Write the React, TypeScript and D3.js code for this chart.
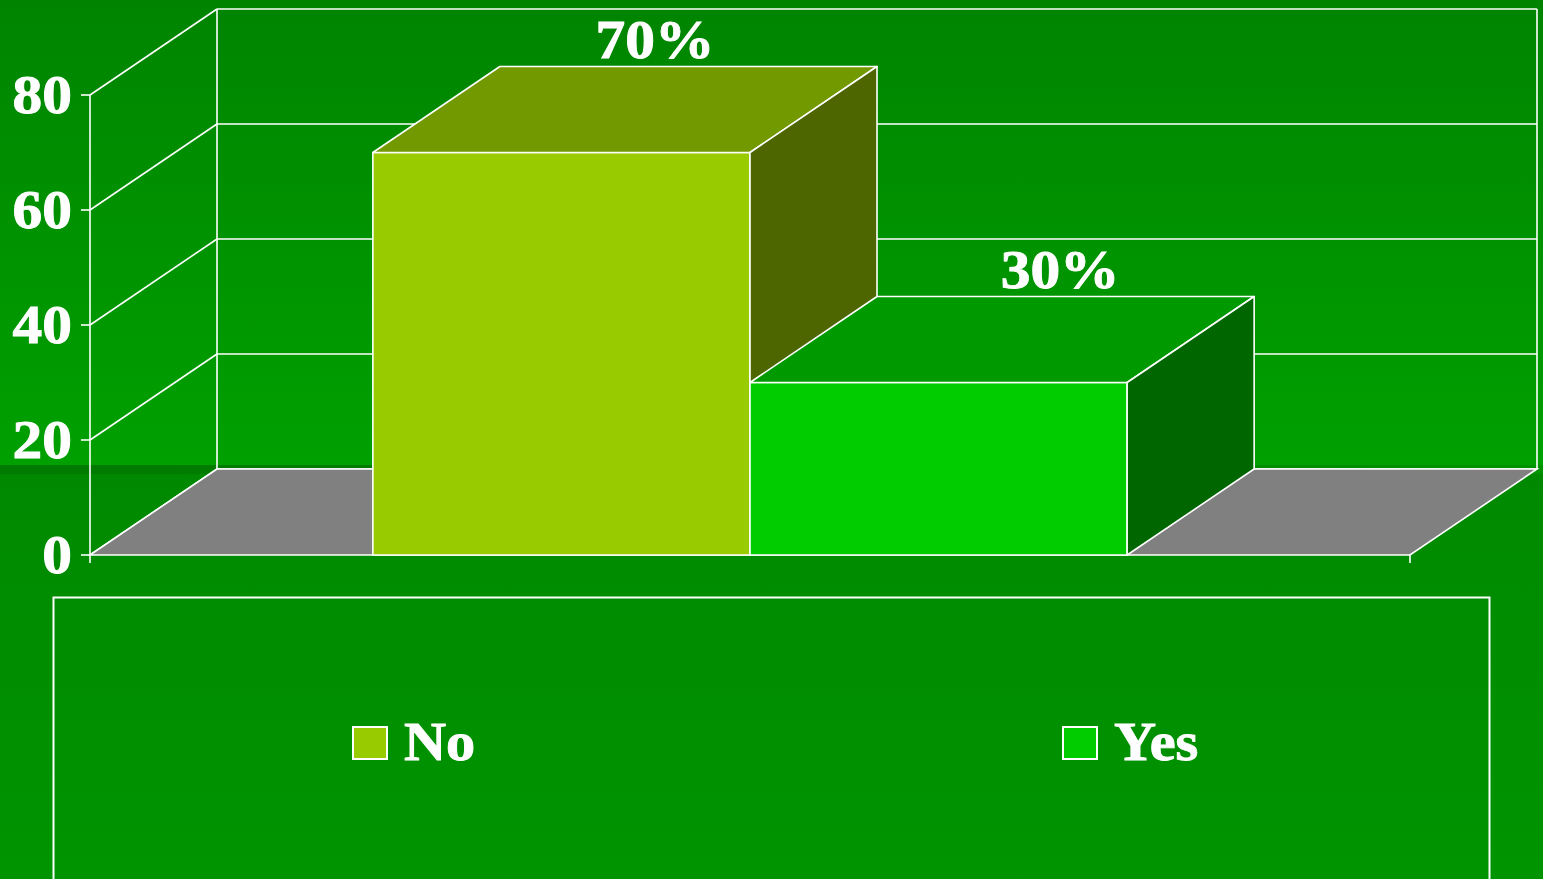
import React from "react";
import * as d3 from "d3";

const categories = [""];
const seriesNames = ["No", "Yes"];
const seriesValues = [70, 30];
const valueLabels = ["70%", "30%"];
const yTicks = [0, 20, 40, 60, 80];

const W = 1543;
const H = 879;
const FONT = "'Liberation Serif', 'Times New Roman', serif";

const frontColors = ["#99cc00", "#00cc00"];
const topColors = ["#739900", "#009900"];
const sideColors = ["#4d6600", "#006600"];
const labelDx = [30, 58];
const SX = 1.08;

function BoldText(props: { x: number; y: number; anchor: string; size: number; children: React.ReactNode }) {
  const { x, y, anchor, size, children } = props;
  return (
    <text
      x={0}
      y={0}
      transform={`translate(${x},${y}) scale(${SX},1)`}
      textAnchor={anchor}
      fill="#fff"
      stroke="#fff"
      strokeWidth={0.9}
      fontFamily={FONT}
      fontWeight="bold"
      fontSize={size}
    >
      {children}
    </text>
  );
}

export default function App() {
  const left = 90;
  const right = 1410;
  const depthX = 127;
  const depthY = -86;
  const y = d3.scaleLinear().domain([0, 80]).range([555, 95]);
  const xCat = d3.scaleBand().domain(categories).range([left, right]).paddingInner(0).paddingOuter(0.375);
  const xSer = d3.scaleBand().domain(seriesNames).range([0, xCat.bandwidth()]);
  const y0 = y(0);

  const pts = (arr: [number, number][]) => arr.map((p) => p.join(",")).join(" ");

  return (
    <svg width={W} height={H} style={{ position: "fixed", left: 0, top: 0 }}>
      <defs>
        <linearGradient id="bgTop" x1="0" y1="0" x2="0" y2="1">
          <stop offset="0" stopColor="#008400" />
          <stop offset="1" stopColor="#00a000" />
        </linearGradient>
        <linearGradient id="bgBot" x1="0" y1="0" x2="0" y2="1">
          <stop offset="0" stopColor="#008900" />
          <stop offset="1" stopColor="#009400" />
        </linearGradient>
        <linearGradient id="band" x1="0" y1="0" x2="1" y2="0">
          <stop offset="0" stopColor="#007a00" />
          <stop offset="0.25" stopColor="#007d00" />
          <stop offset="1" stopColor="#009200" />
        </linearGradient>
      </defs>
      <rect x={0} y={0} width={W} height={466} fill="url(#bgTop)" />
      <rect x={0} y={474} width={W} height={H - 474} fill="url(#bgBot)" />
      <rect x={0} y={465} width={W} height={9} fill="url(#band)" />

      {/* back wall gridlines */}
      {yTicks.map((t) => (
        <g key={"g" + t}>
          <line x1={left + depthX} x2={right + depthX} y1={y(t) + depthY} y2={y(t) + depthY} stroke="#fff" strokeWidth={1.6} />
          <line x1={left} x2={left + depthX} y1={y(t)} y2={y(t) + depthY} stroke="#fff" strokeWidth={1.6} />
          <line x1={left - 9} x2={left} y1={y(t)} y2={y(t)} stroke="#fff" strokeWidth={1.6} />
        </g>
      ))}
      <line x1={left + depthX} x2={left + depthX} y1={y(80) + depthY} y2={y0 + depthY} stroke="#fff" strokeWidth={1.6} />
      <line x1={right + depthX} x2={right + depthX} y1={y(80) + depthY} y2={y0 + depthY} stroke="#fff" strokeWidth={1.6} />
      <line x1={left} x2={left} y1={y(80)} y2={y0 + 8} stroke="#fff" strokeWidth={1.6} />
      <line x1={right} x2={right} y1={y0} y2={y0 + 8} stroke="#fff" strokeWidth={1.6} />

      {/* floor */}
      <polygon
        points={pts([
          [left, y0],
          [right, y0],
          [right + depthX, y0 + depthY],
          [left + depthX, y0 + depthY],
        ])}
        fill="#808080"
        stroke="#fff"
        strokeWidth={1.6}
      />

      {/* bars */}
      {categories.map((c) =>
        seriesNames.map((s, i) => {
          const x0 = (xCat(c) as number) + (xSer(s) as number);
          const x1 = x0 + xSer.bandwidth();
          const yt = y(seriesValues[i]);
          return (
            <g key={s} stroke="#fff" strokeWidth={1.6} strokeLinejoin="round">
              <rect x={x0} y={yt} width={x1 - x0} height={y0 - yt} fill={frontColors[i]} />
              <polygon
                points={pts([
                  [x0, yt],
                  [x1, yt],
                  [x1 + depthX, yt + depthY],
                  [x0 + depthX, yt + depthY],
                ])}
                fill={topColors[i]}
              />
              <polygon
                points={pts([
                  [x1, yt],
                  [x1 + depthX, yt + depthY],
                  [x1 + depthX, y0 + depthY],
                  [x1, y0],
                ])}
                fill={sideColors[i]}
              />
            </g>
          );
        })
      )}

      {/* value labels */}
      {seriesNames.map((s, i) => {
        const x0 = (xCat(categories[0]) as number) + (xSer(s) as number);
        const cx = x0 + xSer.bandwidth() / 2 + depthX / 2 + labelDx[i];
        const yt = y(seriesValues[i]) + depthY;
        return (
          <BoldText key={"l" + s} x={cx} y={yt - 9} anchor="middle" size={55}>
            {valueLabels[i]}
          </BoldText>
        );
      })}

      {/* y tick labels */}
      {yTicks.map((t) => (
        <BoldText key={"t" + t} x={72} y={y(t) + 18} anchor="end" size={55}>
          {t}
        </BoldText>
      ))}

      {/* legend */}
      <rect x={53.5} y={597.5} width={1436} height={320} fill="none" stroke="#fff" strokeWidth={2} />
      {seriesNames.map((s, i) => {
        const lx = [353, 1063][i];
        return (
          <g key={"lg" + s}>
            <rect x={lx} y={727} width={34} height={32} fill={frontColors[i]} stroke="#fff" strokeWidth={2} />
            <BoldText x={lx + 51} y={760} anchor="start" size={54}>
              {s}
            </BoldText>
          </g>
        );
      })}
    </svg>
  );
}
